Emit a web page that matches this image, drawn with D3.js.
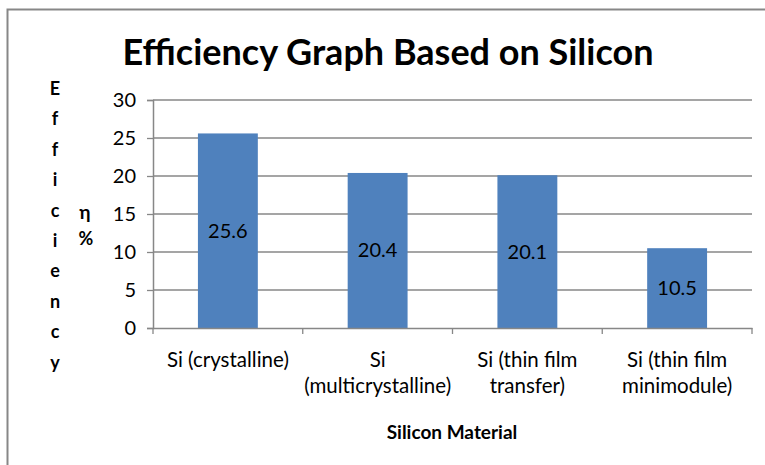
<!DOCTYPE html>
<html>
<head>
<meta charset="utf-8">
<script src="https://cdn.jsdelivr.net/npm/d3@7"></script>
<style>
body { margin: 0; background: #fff; }
text { font-family: Lato, "Open Sans", sans-serif; fill: #000; }
</style>
</head>
<body>
<div id="chart"></div>
<script>
var w = 765,
    h = 465;

var categories = [
  ["Si (crystalline)"],
  ["Si", "(multicrystalline)"],
  ["Si (thin film", "transfer)"],
  ["Si (thin film", "minimodule)"]
];
var values = [25.6, 20.4, 20.1, 10.5];
var yTicks = [0, 5, 10, 15, 20, 25, 30];
var yLabel = "Efficiency".split("");

var svg = d3.select("#chart")
  .append("svg")
  .attr("width", w)
  .attr("height", h);

// outer frame
svg.append("rect")
  .attr("x", 7.5).attr("y", 9.5)
  .attr("width", w).attr("height", h)
  .attr("fill", "#fff")
  .attr("stroke", "#878787")
  .attr("stroke-width", 2);

var pLeft = 153, pRight = 752, pTop = 100, pBottom = 328;

var x = d3.scaleBand()
  .domain(d3.range(categories.length))
  .range([pLeft, pRight])
  .paddingInner(0.6)
  .paddingOuter(0.3);

var xt = d3.scaleBand()
  .domain(d3.range(categories.length))
  .range([pLeft, pRight]);

var y = d3.scaleLinear()
  .domain([0, 30])
  .range([pBottom, pTop]);

// gridlines
svg.selectAll(".grid")
  .data(yTicks.slice(1))
  .enter()
  .append("line")
  .attr("class", "grid")
  .attr("x1", pLeft).attr("x2", pRight)
  .attr("y1", function(d) { return y(d); })
  .attr("y2", function(d) { return y(d); })
  .attr("stroke", "#878787")
  .attr("stroke-width", 1.3);

// bars
svg.selectAll(".bar")
  .data(values)
  .enter()
  .append("rect")
  .attr("class", "bar")
  .attr("x", function(d, i) { return x(i); })
  .attr("y", function(d) { return y(d); })
  .attr("width", x.bandwidth())
  .attr("height", function(d) { return y(0) - y(d); })
  .attr("fill", "#4F81BD");

// value labels
svg.selectAll(".val")
  .data(values)
  .enter()
  .append("text")
  .attr("class", "val")
  .attr("x", function(d, i) { return x(i) + x.bandwidth() / 2; })
  .attr("y", function(d) { return (y(d) + y(0)) / 2 + 7; })
  .attr("text-anchor", "middle")
  .attr("font-size", "20px")
  .text(function(d) { return d.toFixed(1); });

// y axis
var yAxis = svg.append("g")
  .attr("transform", "translate(" + pLeft + ",0)")
  .call(d3.axisLeft(y).tickValues(yTicks).tickSize(6).tickPadding(11));
yAxis.selectAll("line").attr("stroke", "#878787").attr("stroke-width", 1.3);
yAxis.select(".domain").attr("stroke", "#878787").attr("stroke-width", 1.5);
yAxis.selectAll("text")
  .attr("font-size", "20px")
  .attr("font-family", "Lato, 'Open Sans', sans-serif");

// x axis
var xAxis = svg.append("g")
  .attr("transform", "translate(0," + pBottom + ")")
  .call(d3.axisBottom(xt).tickValues([]).tickSizeOuter(0));
xAxis.select(".domain").attr("stroke", "#878787").attr("stroke-width", 1.5);
xAxis.selectAll(".xtick")
  .data(d3.range(categories.length + 1))
  .enter()
  .append("line")
  .attr("x1", function(d) { return pLeft + d * xt.bandwidth(); })
  .attr("x2", function(d) { return pLeft + d * xt.bandwidth(); })
  .attr("y1", 0).attr("y2", 6)
  .attr("stroke", "#878787")
  .attr("stroke-width", 1.3);

// category labels
var cat = svg.selectAll(".cat")
  .data(categories)
  .enter()
  .append("text")
  .attr("class", "cat")
  .attr("text-anchor", "middle")
  .attr("font-size", "20.5px")
  .attr("x", function(d, i) { return xt(i) + xt.bandwidth() / 2; })
  .attr("y", 367);
cat.selectAll("tspan")
  .data(function(d) { return d; })
  .enter()
  .append("tspan")
  .attr("x", function() { return this.parentNode.getAttribute("x"); })
  .attr("dy", function(d, i) { return i === 0 ? 0 : 26; })
  .text(function(d) { return d; });

// title
svg.append("text")
  .attr("x", 388).attr("y", 65)
  .attr("text-anchor", "middle")
  .attr("font-size", "36px")
  .style("font-weight", "bold")
  .text("Efficiency Graph Based on Silicon");

// x axis title
svg.append("text")
  .attr("x", 452).attr("y", 439)
  .attr("text-anchor", "middle")
  .attr("font-size", "19px")
  .style("font-weight", "bold")
  .text("Silicon Material");

// y axis title, stacked letters
svg.selectAll(".ylab")
  .data(yLabel)
  .enter()
  .append("text")
  .attr("class", "ylab")
  .attr("x", 55)
  .attr("y", function(d, i) { return 95 + i * 30.4; })
  .attr("text-anchor", "middle")
  .attr("font-size", "18px")
  .style("font-weight", "bold")
  .text(function(d) { return d; });

svg.append("text")
  .attr("x", 85).attr("y", 219)
  .attr("text-anchor", "middle")
  .attr("font-size", "19px")
  .style("font-weight", "bold")
  .text("η");
svg.append("text")
  .attr("x", 86).attr("y", 245)
  .attr("text-anchor", "middle")
  .attr("font-size", "18px")
  .style("font-weight", "bold")
  .text("%");
</script>
</body>
</html>
